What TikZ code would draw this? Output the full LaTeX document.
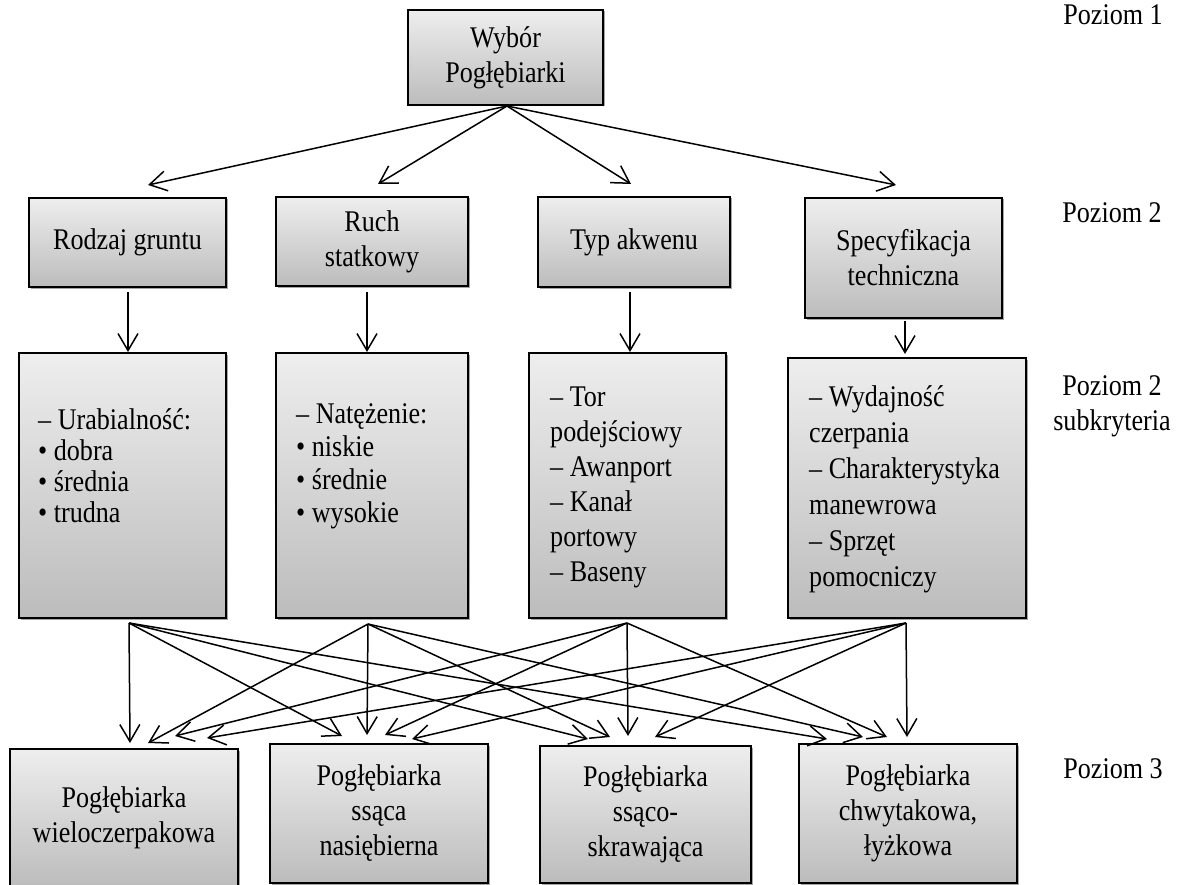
\documentclass[tikz,border=0pt]{standalone}
\usepackage{fontspec}
\setmainfont{Liberation Serif}[FakeStretch=0.87]
\usetikzlibrary{arrows.meta,shadows}
\newcommand\boxfont{\fontsize{30}{35}\selectfont}
\begin{document}
\begin{tikzpicture}[x=1pt,y=-1pt,
  box/.style={draw=black, line width=1.8pt, rectangle, inner sep=0pt,
    top color={rgb,255:red,238;green,238;blue,238},
    bottom color={rgb,255:red,188;green,188;blue,188},
    drop shadow={shadow xshift=1.5pt, shadow yshift=-1.5pt, fill=black, opacity=0.35},
    align=center, font=\boxfont},
  lbl/.style={font=\boxfont, inner sep=0pt, anchor=base},
  sub/.style={font=\boxfont, inner sep=0pt, anchor=west, align=left},
  arr/.style={line width=1.5pt, -{Straight Barb[length=17pt,width=20pt]}}]
\useasboundingbox (0,0) rectangle (1177,885);

% level 1
\node[box, minimum width=195pt, minimum height=95pt] (top) at (505.5,57.5) {Wybór\\Pogłębiarki};

% level 2
\node[box, minimum width=197pt, minimum height=89pt] (rod) at (127.5,242.5) {Rodzaj gruntu};
\node[box, minimum width=192pt, minimum height=89pt] (ruch) at (372,241.5) {Ruch\\statkowy};
\node[box, minimum width=192pt, minimum height=90pt] (typ) at (634,242) {Typ akwenu};
\node[box, minimum width=197pt, minimum height=120pt] (spec) at (903.5,258) {Specyfikacja\\techniczna};

% level 2 sub-criteria
\node[box, minimum width=207pt, minimum height=265pt] (s1) at (122.5,485.5) {};
\node[box, minimum width=192pt, minimum height=265pt] (s2) at (372,485.5) {};
\node[box, minimum width=197pt, minimum height=265pt] (s3) at (627.5,485.5) {};
\node[box, minimum width=238pt, minimum height=260pt] (s4) at (907,488) {};
\node[sub, font=\fontsize{30}{31}\selectfont] (t1) at (38,466) {– Urabialność:\\• dobra\\• średnia\\• trudna};
\node[sub, font=\fontsize{30}{33}\selectfont] (t2) at (296,466) {– Natężenie:\\• niskie\\• średnie\\• wysokie};
\node[sub, font=\fontsize{30}{35}\selectfont] (t3) at (550,487) {– Tor\\podejściowy\\– Awanport\\– Kanał\\portowy\\– Baseny};
\node[sub, font=\fontsize{30}{36}\selectfont] (t4) at (809,489) {– Wydajność\\czerpania\\– Charakterystyka\\manewrowa\\– Sprzęt\\pomocniczy};

% level 3
\node[box, minimum width=228pt, minimum height=138pt] (p1) at (124,818) {Pogłębiarka\\wieloczerpakowa};
\node[box, minimum width=218pt, minimum height=139pt] (p2) at (379,813.5) {Pogłębiarka\\ssąca\\nasiębierna};
\node[box, minimum width=211pt, minimum height=137pt] (p3) at (645.5,814.5) {Pogłębiarka\\ssąco-\\skrawająca};
\node[box, minimum width=218pt, minimum height=139pt] (p4) at (908,813.5) {Pogłębiarka\\chwytakowa,\\łyżkowa};

% level labels
\node[lbl] (lv1) at (1113,25) {Poziom 1};
\node[lbl] (lv2) at (1112,223) {Poziom 2};
\node[lbl, align=center, anchor=north] (lv2s) at (1112,375) {Poziom 2\\subkryteria};
\node[lbl] (lv3) at (1113,778) {Poziom 3};

% connector end points
\coordinate (o0) at (507,106);
\coordinate (i1) at (148,185);
\coordinate (i2) at (378,184);
\coordinate (i3) at (631,184);
\coordinate (i4) at (896,185);

\coordinate (a1) at (128,292);  \coordinate (b1) at (128,352);
\coordinate (a2) at (367,292);  \coordinate (b2) at (367,352);
\coordinate (a3) at (630,292);  \coordinate (b3) at (630,352);
\coordinate (a4) at (905,321);  \coordinate (b4) at (905,354);

\coordinate (o1) at (129,623);
\coordinate (o2) at (368,624);
\coordinate (o3) at (627,623);
\coordinate (o4) at (906,623);

\coordinate (e11) at (130,743); \coordinate (e21) at (148,743);
\coordinate (e31) at (175,736); \coordinate (e41) at (207,738);
\coordinate (e12) at (342,736); \coordinate (e22) at (367,735);
\coordinate (e32) at (385,735); \coordinate (e42) at (412,739);
\coordinate (e13) at (588,739); \coordinate (e23) at (610,737);
\coordinate (e33) at (628,736); \coordinate (e43) at (655,737);
\coordinate (e14) at (827,739); \coordinate (e24) at (863,737);
\coordinate (e34) at (887,737); \coordinate (e44) at (907,737);

% level 1 -> level 2
\foreach \i in {1,...,4} \draw[arr] (o0) -- (i\i);
% level 2 -> sub-criteria
\foreach \i in {1,...,4} \draw[arr] (a\i) -- (b\i);
% sub-criteria -> level 3
\foreach \s in {1,...,4} {
  \foreach \t in {1,...,4} \draw[arr] (o\s) -- (e\s\t);
}
\end{tikzpicture}
\end{document}
